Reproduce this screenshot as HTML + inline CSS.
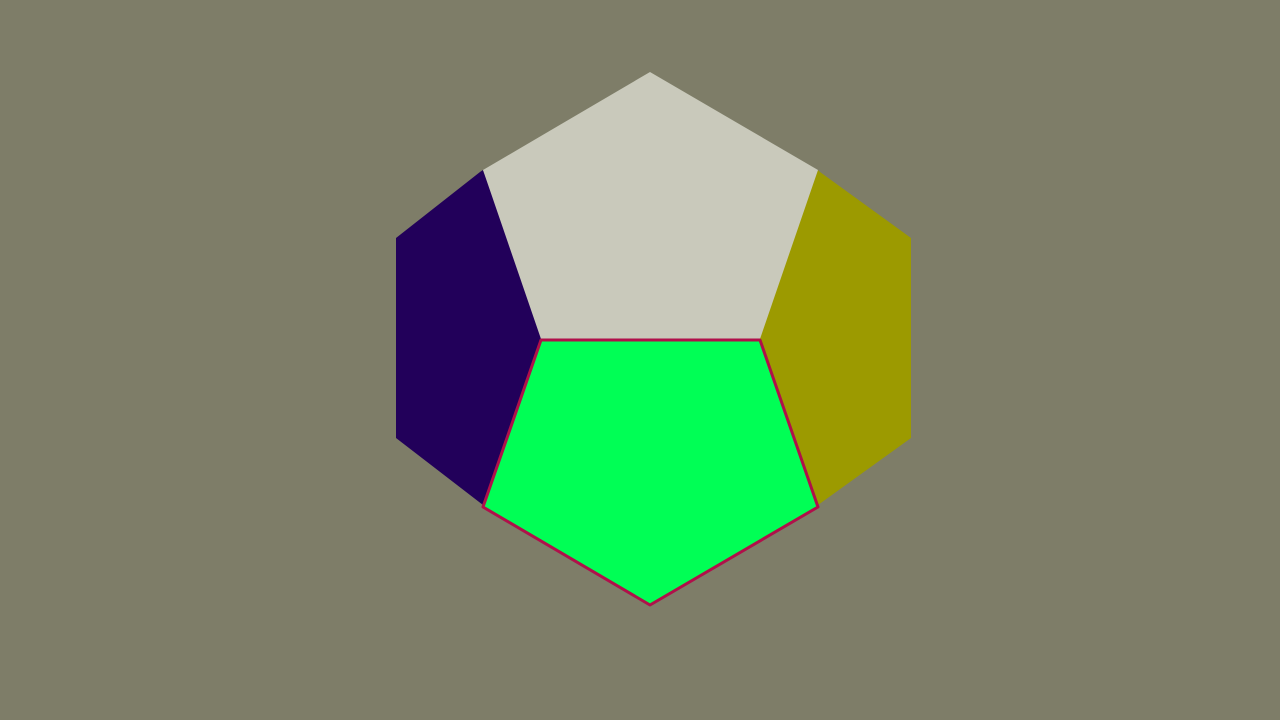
<!DOCTYPE html>
<html><head><meta charset="utf-8"><style>
html,body{margin:0;padding:0;background:#7e7d68;}
svg{display:block;}
</style></head><body>
<svg id="scene" width="1280" height="720" viewBox="0 0 1280 720" xmlns="http://www.w3.org/2000/svg">
<rect width="1280" height="720" fill="#7e7d68"/>
</svg>
<script>
const faceNames = ['left-face','right-face','top-face','front-face'];
const faceColors = ['#22005a','#9c9a00','#c9c9bb','#00ff55'];
const leftFace = [[483,170],[480,172],[396,238],[396,438],[483,505],[545,340],[543,335]];
const rightFace = [[818,170],[820,172],[911,238],[911,438],[818,505],[756,340],[758,335]];
const topFace = [[650,72],[818,170],[760,339],[541,339],[483,170]];
const frontFace = [[541,340],[760,340],[818,507],[650,605],[483,507]];
const faces = [leftFace,rightFace,topFace,frontFace];
const svg = document.getElementById('scene');
const NS = 'http://www.w3.org/2000/svg';
faces.forEach((pts,i)=>{
  const p = document.createElementNS(NS,'polygon');
  p.setAttribute('points', pts.map(v=>v.join(',')).join(' '));
  p.setAttribute('fill', faceColors[i]);
  if (i===3){ p.setAttribute('stroke','#b0104a'); p.setAttribute('stroke-width','3'); p.setAttribute('stroke-linejoin','round'); }
  
  
  svg.appendChild(p);
});
</script>
</body></html>
